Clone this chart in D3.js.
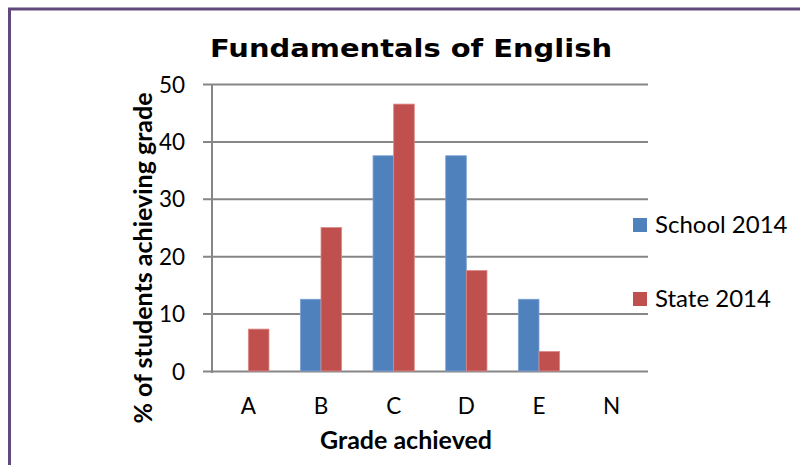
<!DOCTYPE html>
<html>
<head>
<meta charset="utf-8">
<script src="https://cdn.jsdelivr.net/npm/d3@7"></script>
<style>
  html, body { margin: 0; padding: 0; background: #fff; }
  svg { display: block; }
</style>
</head>
<body>
<div id="chart"></div>
<script>
const grades = ["A", "B", "C", "D", "E", "N"];
const seriesNames = ["School 2014", "State 2014"];
const school2014 = [0, 12.5, 37.5, 37.5, 12.5, 0];
const state2014 = [7.3, 25, 46.5, 17.5, 3.4, 0];
const yTicks = [0, 10, 20, 30, 40, 50];

const colors = { "School 2014": "#4f81bd", "State 2014": "#c0504d" };
const edges = { "School 2014": "#7fa3d3", "State 2014": "#dc8a88" };

const width = 800, height = 465;
const plot = { left: 212, right: 648, top: 84, bottom: 371 };
const bodyFont = "Lato, 'Open Sans', sans-serif";

const svg = d3.select("#chart")
  .append("svg")
  .attr("width", width)
  .attr("height", height);

// outer frame (only top + left visible in the crop)
svg.append("rect")
  .attr("x", 9.5).attr("y", 9)
  .attr("width", 900).attr("height", 600)
  .attr("fill", "#fff")
  .attr("stroke", "#604a7b")
  .attr("stroke-width", 3);

const x0 = d3.scaleBand()
  .domain(grades)
  .range([plot.left, plot.right])
  .paddingInner(0.432)
  .paddingOuter(0.216);

const x1 = d3.scaleBand()
  .domain(seriesNames)
  .range([0, x0.bandwidth()]);

const y = d3.scaleLinear()
  .domain([0, 50])
  .range([plot.bottom, plot.top]);

// gridlines + left ticks
const yAxis = d3.axisLeft(y)
  .tickValues(yTicks)
  .tickSize(-(plot.right - plot.left))
  .tickPadding(27)
  .tickFormat(d3.format("d"));

const gy = svg.append("g")
  .attr("transform", `translate(${plot.left},0)`)
  .call(yAxis);
gy.select(".domain").remove();
gy.selectAll(".tick line")
  .attr("x1", -9)
  .attr("stroke", "#868686")
  .attr("stroke-width", 2);
gy.selectAll(".tick text")
  .attr("font-family", bodyFont)
  .attr("font-size", 22.5)
  .attr("fill", "#000")
  .attr("dy", "0.36em");

// y axis line
svg.append("line")
  .attr("x1", plot.left).attr("x2", plot.left)
  .attr("y1", plot.top).attr("y2", plot.bottom + 2)
  .attr("stroke", "#868686")
  .attr("stroke-width", 2);

// bars
const rows = grades.map((g, i) => ({
  grade: g,
  values: [
    { name: "School 2014", value: school2014[i] },
    { name: "State 2014", value: state2014[i] }
  ]
}));

svg.append("g")
  .selectAll("g")
  .data(rows)
  .join("g")
  .attr("transform", d => `translate(${x0(d.grade)},0)`)
  .selectAll("rect")
  .data(d => d.values.filter(v => v.value > 0))
  .join("rect")
  .attr("x", d => x1(d.name))
  .attr("y", d => y(d.value))
  .attr("width", x1.bandwidth())
  .attr("height", d => y(0) - y(d.value))
  .attr("fill", d => colors[d.name])
  .attr("stroke", d => edges[d.name])
  .attr("stroke-width", 0.8);

// x axis
const gx = svg.append("g")
  .attr("transform", `translate(0,${plot.bottom})`)
  .call(d3.axisBottom(x0).tickSize(0).tickPadding(27));
gx.select(".domain").remove();
gx.selectAll(".tick text")
  .attr("font-family", bodyFont)
  .attr("font-size", 22.5)
  .attr("fill", "#000");

// title
svg.append("text")
  .attr("x", 411).attr("y", 57)
  .attr("text-anchor", "middle")
  .attr("font-family", "'DejaVu Sans', Verdana, sans-serif")
  .attr("font-weight", "bold")
  .attr("font-size", 25.5)
  .attr("textLength", 402)
  .attr("lengthAdjust", "spacingAndGlyphs")
  .attr("fill", "#000")
  .text("Fundamentals of English");

// axis titles
svg.append("text")
  .attr("x", 406).attr("y", 449)
  .attr("text-anchor", "middle")
  .attr("font-family", bodyFont)
  .attr("font-weight", "bold")
  .attr("font-size", 25)
  .attr("fill", "#000")
  .text("Grade achieved");

svg.append("text")
  .attr("transform", "translate(152,258) rotate(-90)")
  .attr("text-anchor", "middle")
  .attr("font-family", bodyFont)
  .attr("font-weight", "bold")
  .attr("font-size", 25)
  .attr("fill", "#000")
  .text("% of students achieving grade");

// legend
const legend = svg.append("g")
  .selectAll("g")
  .data(seriesNames)
  .join("g")
  .attr("transform", (d, i) => `translate(633,${218 + i * 74})`);

legend.append("rect")
  .attr("width", 14).attr("height", 14)
  .attr("fill", d => colors[d]);

legend.append("text")
  .attr("x", 22).attr("y", 14.5)
  .attr("font-family", bodyFont)
  .attr("font-size", 24)
  .attr("fill", "#000")
  .text(d => d);
</script>
</body>
</html>
